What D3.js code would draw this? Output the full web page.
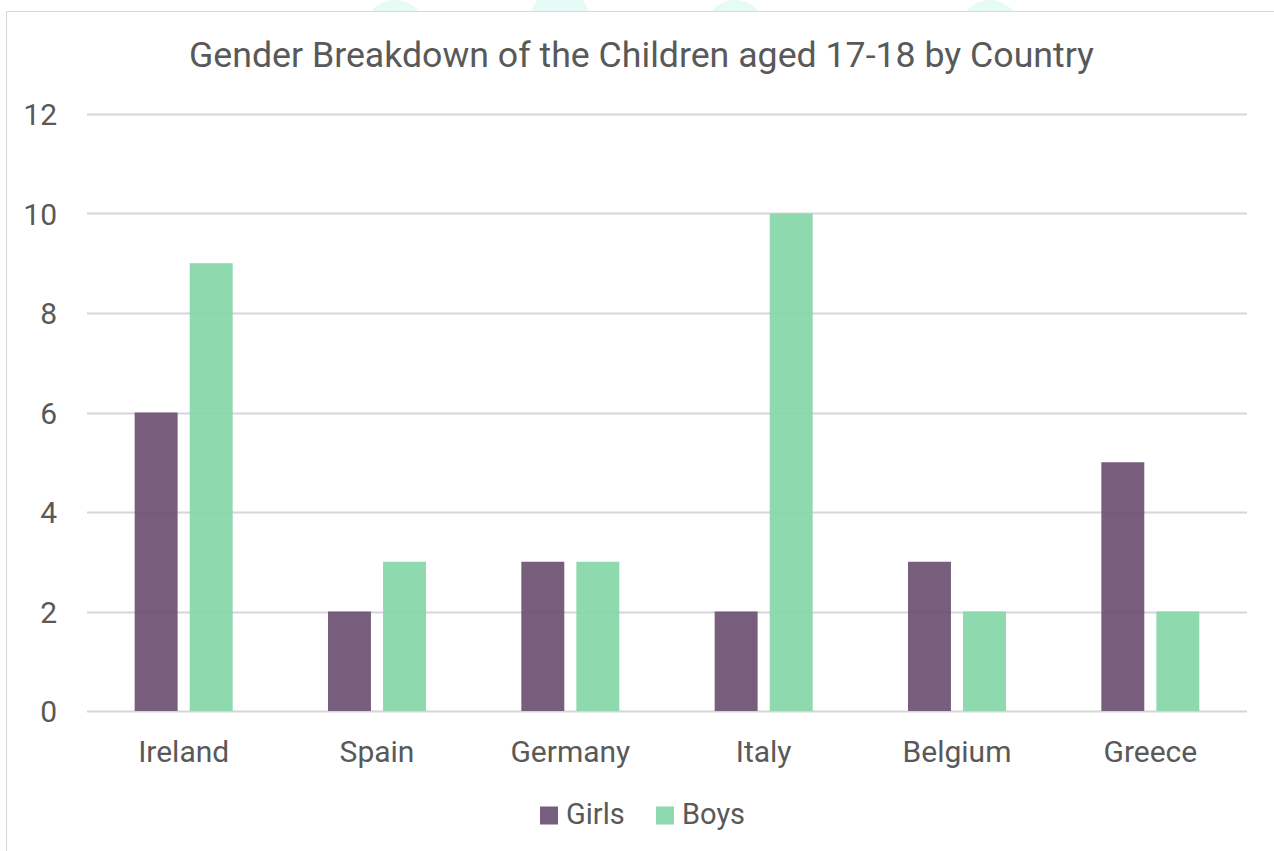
<!DOCTYPE html>
<html><head><meta charset="utf-8">
<script src="https://cdn.jsdelivr.net/npm/d3@7"></script>
<style>body{margin:0;background:#fff;}svg{display:block;font-family:Roboto,"Noto Sans",sans-serif;}</style>
</head><body>
<svg id="c" width="1274" height="851"></svg>
<script>
const categories = ["Ireland","Spain","Germany","Italy","Belgium","Greece"];
const seriesNames = ["Girls","Boys"];
const girls = [6,2,3,2,3,5];
const boys = [9,3,3,10,2,2];
const yTicks = [0,2,4,6,8,10,12];
const title = "Gender Breakdown of the Children aged 17-18 by Country";

(function(){
const colors = {Girls:"#6c5072", Boys:"#84d6a6"};
const svg = d3.select("#c");
// faint decorative shapes at the very top
const deco = svg.append("g").attr("fill","#e6fbf6");
[[395,0],[560,-10],[735,0],[990,0]].forEach(([cx,cy])=>deco.append("ellipse").attr("cx",cx).attr("cy",cy+30).attr("rx",30).attr("ry",30));
// chart frame
svg.append("rect").attr("x",6.5).attr("y",11.5).attr("width",1300).attr("height",900).attr("fill","#fff").attr("stroke","#d9d9d9").attr("stroke-width",1);

const pLeft=87,pRight=1247,pTop=114,pBottom=711;
const x = d3.scaleBand().domain(categories).range([pLeft,pRight]).paddingInner(0).paddingOuter(0);
const x1 = d3.scaleBand().domain(seriesNames).range([x.bandwidth()/2-49, x.bandwidth()/2+49]).paddingInner(0.22).paddingOuter(0);
const y = d3.scaleLinear().domain([0,12]).range([pBottom,pTop]);

// grid
svg.append("g").selectAll("line").data(yTicks).join("line")
  .attr("x1",pLeft).attr("x2",pRight).attr("y1",d=>Math.round(y(d))+0.5).attr("y2",d=>Math.round(y(d))+0.5)
  .attr("stroke",d=>d===0?"#d6d6d6":"#d8d3dc").attr("stroke-width",2);

// y labels
const yAxis = d3.axisLeft(y).tickValues(yTicks).tickSize(0).tickPadding(0);
const ya = svg.append("g").attr("transform",`translate(57,0)`).call(yAxis);
ya.select(".domain").remove();
ya.selectAll("text").attr("fill","#595959").attr("font-size",30).attr("font-family","Roboto").attr("dy","0.35em");

// bars
const data = categories.map((c,i)=>({c, vals:[{s:"Girls",v:girls[i]},{s:"Boys",v:boys[i]}]}));
const g = svg.append("g").selectAll("g").data(data).join("g").attr("transform",d=>`translate(${x(d.c)},0)`);
g.selectAll("rect").data(d=>d.vals).join("rect")
  .attr("x",d=>x1(d.s)).attr("width",x1.bandwidth())
  .attr("y",d=>y(d.v)).attr("height",d=>y(0)-y(d.v))
  .attr("fill",d=>colors[d.s]).attr("fill-opacity",0.92);

// x labels
const xAxis = d3.axisBottom(x).tickSize(0).tickPadding(0);
const xa = svg.append("g").attr("transform",`translate(0,${pBottom})`).call(xAxis);
xa.select(".domain").remove();
xa.selectAll("text").attr("fill","#595959").attr("font-size",30).attr("font-family","Roboto").attr("dy",null).attr("y",51);

// title
svg.append("text").attr("x",641.5).attr("y",67).attr("text-anchor","middle")
  .attr("font-size",35.7).attr("fill","#595959").text(title);

// legend
const legendItems = [{s:"Girls",x:540},{s:"Boys",x:656}];
const lg = svg.append("g").selectAll("g").data(legendItems).join("g").attr("transform",d=>`translate(${d.x},0)`);
lg.append("rect").attr("x",0).attr("y",806.5).attr("width",18).attr("height",18).attr("fill",d=>colors[d.s]).attr("fill-opacity",0.92);
lg.append("text").attr("x",26).attr("y",823.5).attr("font-size",29).attr("fill","#595959").text(d=>d.s);
})();
</script>
</body></html>
